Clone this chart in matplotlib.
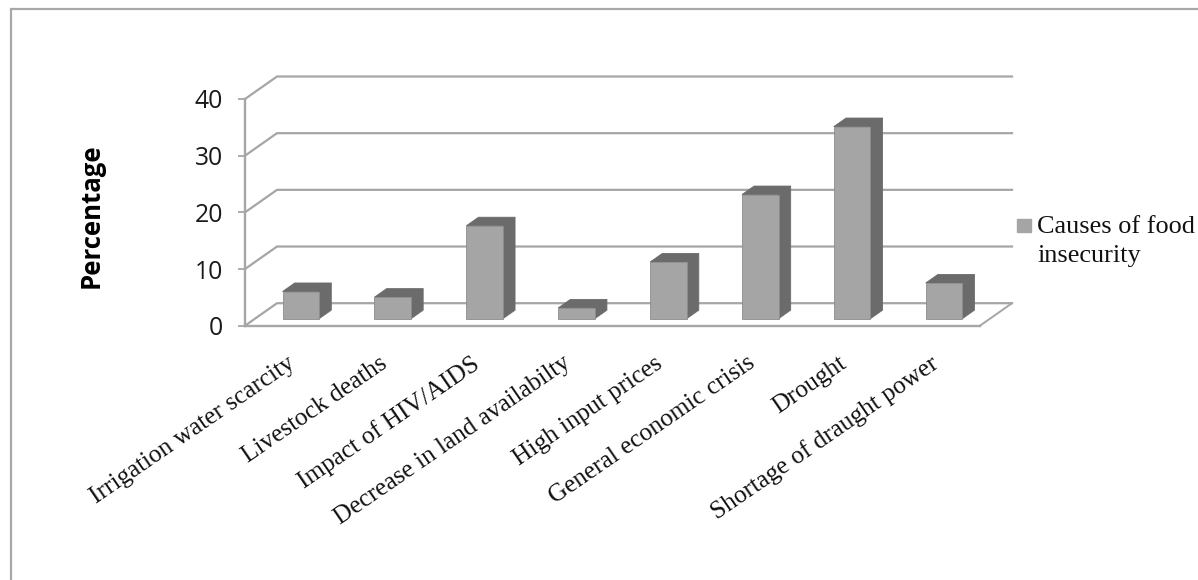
import matplotlib
matplotlib.use("Agg")
import matplotlib.pyplot as plt
from matplotlib.legend_handler import HandlerPatch
from matplotlib.patches import Polygon, Patch, Rectangle
from matplotlib.lines import Line2D
from matplotlib.transforms import ScaledTranslation

categories = [
    "Irrigation water scarcity",
    "Livestock deaths",
    "Impact of HIV/AIDS",
    "Decrease in land availabilty",
    "High input prices",
    "General economic crisis",
    "Drought",
    "Shortage of draught power",
]
percentages = [4.8, 3.8, 16.4, 1.9, 10.0, 21.9, 33.9, 6.3]
y_ticks = [0, 10, 20, 30, 40]
series_name = "Causes of food\ninsecurity"
y_title = "Percentage"

W, H = 1198, 580
FACE, SIDE, EDGE = "#a5a5a5", "#6b6b6b", "#8c8c8c"
GRID = "#a6a6a6"

fig = plt.figure(figsize=(W / 100, H / 100), dpi=100, facecolor="white")

# Plot plane of the front of the 3-D box, in pixels from the top-left corner
left, right, top, bottom = 245, 980, 99, 325.7
ax = fig.add_axes([left / W, 1 - bottom / H, (right - left) / W, (bottom - top) / H])
ax.set_xlim(-0.5, len(categories) - 0.5)
ax.set_ylim(0, 40)
ax.patch.set_visible(False)

# Oblique projection: depth 0 is the front plane, depth 1 the back wall
DX = 32 / ((right - left) / len(categories))
DY = 22.5 / ((bottom - top) / 40)


def project(x, y, depth):
    return x + depth * DX, y + depth * DY


# Back wall gridlines with their diagonal returns along the side wall
x_lo, x_hi = -0.5, len(categories) - 0.5
for v in y_ticks:
    xs, ys = zip(project(x_lo, v, 0), project(x_lo, v, 1), project(x_hi, v, 1))
    ax.add_line(Line2D(xs, ys, color=GRID, lw=1.6, clip_on=False, zorder=1,
                       solid_joinstyle="miter"))

# Right-hand edge of the floor
xs, ys = zip(project(x_hi, 0, 0), project(x_hi, 0, 1))
ax.add_line(Line2D(xs, ys, color=GRID, lw=1.4, clip_on=False, zorder=1))

# Bars as front, top and side faces
BAR_HALF = 0.199
D0, D1 = 0.31, 0.69
for i, value in enumerate(percentages):
    x0, x1 = i - BAR_HALF, i + BAR_HALF
    a = project(x0, 0, D0)
    b = project(x1, 0, D0)
    c = project(x1, value, D0)
    d = project(x0, value, D0)
    e = project(x1, value, D1)
    f = project(x0, value, D1)
    g = project(x1, 0, D1)
    ax.add_patch(Polygon([b, g, e, c], fc=SIDE, ec=SIDE, lw=0.6, clip_on=False, zorder=3))
    ax.add_patch(Polygon([d, c, e, f], fc=SIDE, ec=SIDE, lw=0.6, clip_on=False, zorder=3))
    ax.add_patch(Polygon([a, b, c, d], fc=FACE, ec=EDGE, lw=0.6, clip_on=False, zorder=4))

for name in ("top", "right"):
    ax.spines[name].set_visible(False)
for name in ("left", "bottom"):
    ax.spines[name].set_color(GRID)
    ax.spines[name].set_linewidth(1.7)

ax.set_yticks(y_ticks)
ax.set_yticklabels([str(v) for v in y_ticks], family="Open Sans", fontsize=17.8, color="#1a1a1a")
ax.tick_params(axis="y", length=5, width=1.3, color=GRID, pad=11)

ax.set_xticks(range(len(categories)))
ax.set_xticklabels(categories, rotation=34.5, ha="right", va="top", rotation_mode="anchor",
                   family="Liberation Serif", fontsize=18.2, color="#111111")
ax.tick_params(axis="x", length=0, pad=19)
shift = ScaledTranslation(-4 / 100, 0, fig.dpi_scale_trans)
for label in ax.get_xticklabels():
    label.set_transform(label.get_transform() + shift)

ax.set_ylabel(y_title, family="Open Sans", fontweight="bold", fontsize=18.5, color="black")
ax.yaxis.set_label_coords((105 - left) / (right - left), (bottom - 216) / (bottom - top))


def first_line_swatch(legend, orig_handle, xdescent, ydescent, width, height, fontsize):
    # Small square raised to sit beside the first line of the two-line entry
    return Rectangle((0, 0.69 * fontsize), 0.53 * fontsize, 0.49 * fontsize)


legend = ax.legend(handles=[Patch(fc=FACE, ec=FACE, label=series_name)],
                   handler_map={Patch: HandlerPatch(patch_func=first_line_swatch)},
                   loc="center left", bbox_to_anchor=((1017 - left) / (right - left), (bottom - 241.5) / (bottom - top)),
                   frameon=False, handlelength=0.53, handleheight=0.49, handletextpad=0.23,
                   borderpad=0, borderaxespad=0, labelspacing=0,
                   prop={"family": "Liberation Serif", "size": 18.9})
for t in legend.get_texts():
    t.set_linespacing(1.45)
    t.set_color("#111111")

# Thin frame around the chart area
fig.add_artist(Rectangle((10.5 / W, -0.02), (W + 20) / W, 1.02 - 8.5 / H, transform=fig.transFigure,
                         fill=False, ec="#a8a8a8", lw=1.6))

fig.savefig("out.png", dpi=100)
